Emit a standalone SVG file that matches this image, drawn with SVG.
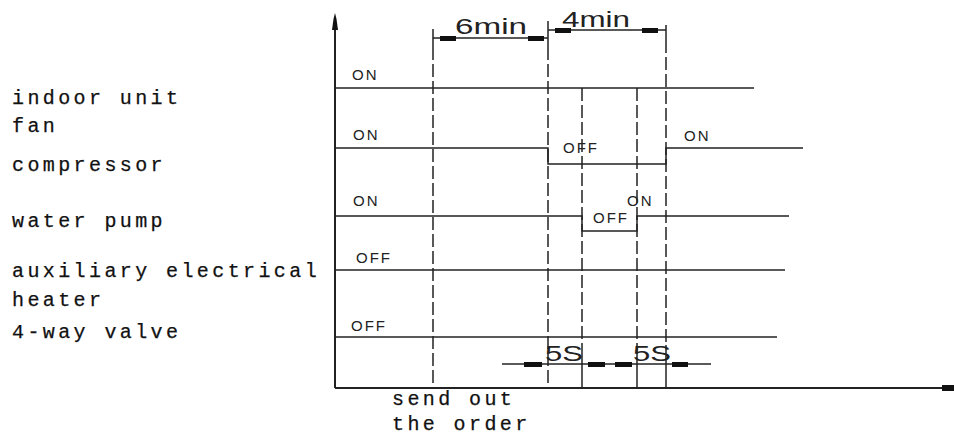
<svg xmlns="http://www.w3.org/2000/svg" width="954" height="437" viewBox="0 0 954 437">
<style>
.ln{stroke:#222;stroke-width:1.5;fill:none}
.ax{stroke:#222;stroke-width:2;fill:none}
.ds{stroke:#222;stroke-width:1.5;fill:none;stroke-dasharray:13 4}
.blk{fill:#111}
.st{font-family:"Liberation Sans",Arial,sans-serif;font-size:15px;fill:#222;letter-spacing:2px}
.dim{font-family:"Liberation Sans",Arial,sans-serif;font-size:22px;fill:#222}
.lb{font-family:"Liberation Mono","Courier New",monospace;font-size:20px;fill:#111;letter-spacing:3.4px;stroke:#111;stroke-width:0.25}
</style>
<rect width="954" height="437" fill="#fff"/>
<g id="axes">
<line class="ax" x1="335" y1="22" x2="335" y2="388"/>
<polygon class="blk" points="335,13 336.5,19 338,30 332,30 333.5,19"/>
<line class="ax" x1="335" y1="388" x2="944" y2="388"/>
<rect class="blk" x="942" y="385" width="12" height="6"/>
</g>
<g id="labels">
<text class="lb" x="12" y="104">indoor unit</text>
<text class="lb" x="12" y="132">fan</text>
<text class="lb" x="12" y="171">compressor</text>
<text class="lb" x="12" y="227">water pump</text>
<text class="lb" x="12" y="277">auxiliary electrical</text>
<text class="lb" x="12" y="306">heater</text>
<text class="lb" x="12" y="338">4-way valve</text>
<text class="lb" x="392" y="405">send out</text>
<text class="lb" x="392" y="430">the order</text>
</g>
<g id="connectors">
<line class="ln" x1="433" y1="29" x2="433" y2="47"/>
<line class="ds" x1="433" y1="47" x2="433" y2="388"/>
<line class="ln" x1="548" y1="21" x2="548" y2="47"/>
<line class="ds" x1="548" y1="47" x2="548" y2="388"/>
<line class="ln" x1="666" y1="25" x2="666" y2="40"/>
<line class="ds" x1="666" y1="40" x2="666" y2="345"/>
<line class="ln" x1="666" y1="345" x2="666" y2="388"/>
<line class="ds" x1="582" y1="88" x2="582" y2="345"/>
<line class="ln" x1="582" y1="345" x2="582" y2="388"/>
<line class="ds" x1="637" y1="88" x2="637" y2="345"/>
<line class="ln" x1="637" y1="345" x2="637" y2="388"/>
</g>
<g id="fan-signal">
<line class="ln" x1="335" y1="88" x2="754" y2="88"/>
<text class="st" x="352" y="80">ON</text>
</g>
<g id="compressor-signal">
<polyline class="ln" points="335,148 548,148 548,164 666,164 666,148 803,148"/>
<text class="st" x="353" y="140">ON</text>
<text class="st" x="563" y="153">OFF</text>
<text class="st" x="684" y="141">ON</text>
</g>
<g id="pump-signal">
<polyline class="ln" points="335,216 582,216 582,231 637,231 637,216 789,216"/>
<text class="st" x="353" y="206">ON</text>
<text class="st" x="593" y="223">OFF</text>
<text class="st" x="627" y="206">ON</text>
</g>
<g id="heater-signal">
<line class="ln" x1="335" y1="270" x2="785" y2="270"/>
<text class="st" x="356" y="263">OFF</text>
</g>
<g id="valve-signal">
<line class="ln" x1="335" y1="337" x2="777" y2="337"/>
<text class="st" x="351" y="331">OFF</text>
</g>
<g id="dim-6min">
<line class="ln" x1="433" y1="38" x2="548" y2="38"/>
<rect class="blk" x="440" y="36" width="16" height="5"/>
<rect class="blk" x="528" y="36" width="16" height="5"/>
<text class="dim" x="455" y="34" textLength="72" lengthAdjust="spacingAndGlyphs">6min</text>
</g>
<g id="dim-4min">
<line class="ln" x1="548" y1="30" x2="666" y2="30"/>
<rect class="blk" x="555" y="28" width="16" height="5"/>
<rect class="blk" x="642" y="28" width="16" height="5"/>
<text class="dim" x="562" y="27" textLength="68" lengthAdjust="spacingAndGlyphs">4min</text>
</g>
<g id="dim-5s">
<line class="ln" x1="502" y1="364" x2="711" y2="364"/>
<rect class="blk" x="524" y="362" width="18" height="5"/>
<rect class="blk" x="588" y="362" width="17" height="5"/>
<rect class="blk" x="615" y="362" width="17" height="5"/>
<rect class="blk" x="672" y="362" width="16" height="5"/>
<text class="dim" x="545" y="361" font-size="24" textLength="38" lengthAdjust="spacingAndGlyphs">5S</text>
<text class="dim" x="633" y="361" font-size="24" textLength="38" lengthAdjust="spacingAndGlyphs">5S</text>
</g>
</svg>
